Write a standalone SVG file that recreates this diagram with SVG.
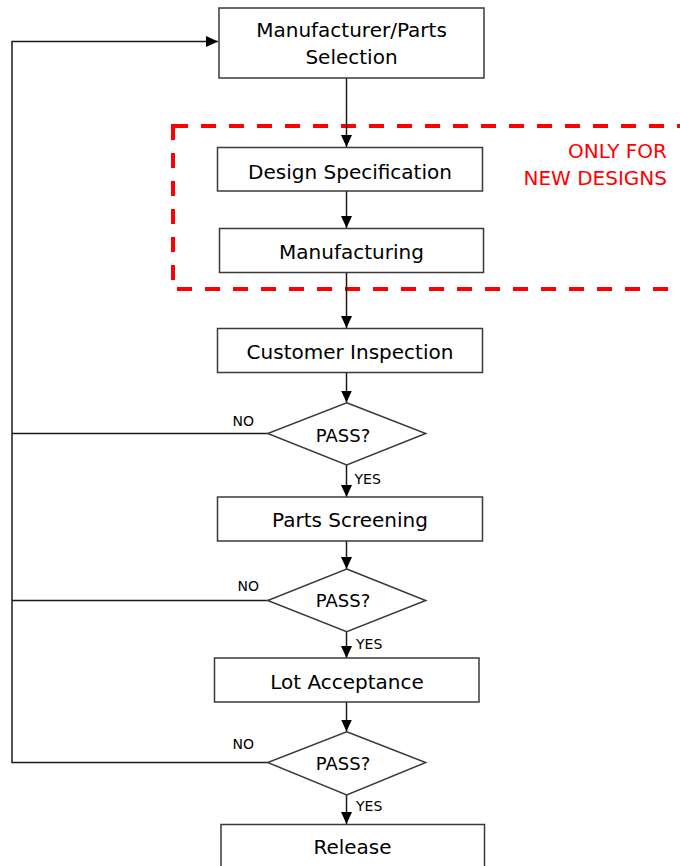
<svg xmlns="http://www.w3.org/2000/svg" width="680" height="866" viewBox="0 0 680 866">
<style>
.box{fill:#fff;stroke:#3a3a3a;stroke-width:1.5}
.lbl{font-family:"DejaVu Sans",Verdana,sans-serif;font-size:20px;fill:#000;text-anchor:middle}
.pass{font-family:"DejaVu Sans",Verdana,sans-serif;font-size:18px;fill:#000;text-anchor:middle}
.yn{font-family:"DejaVu Sans",Verdana,sans-serif;font-size:14px;fill:#000}
.red{font-family:"DejaVu Sans",Verdana,sans-serif;font-size:20px;fill:#ff0000;text-anchor:end}
.ln{fill:none;stroke:#1a1a1a;stroke-width:1.5}
.arr{fill:none;stroke:#1a1a1a;stroke-width:1.5;marker-end:url(#ah)}
</style>
<defs>
<marker id="ah" markerUnits="userSpaceOnUse" markerWidth="12" markerHeight="11" refX="12" refY="5.5" orient="auto">
<path d="M0,0 L12,5.5 L0,11 Z" fill="#000"/>
</marker>
</defs>
<rect width="680" height="866" fill="#fff"/>
<g id="region-new-designs">
<rect x="173" y="126" width="530" height="163" fill="none" stroke="#ff0000" stroke-width="4" stroke-dasharray="15 13"/>
<text class="red" x="667" y="158">ONLY FOR</text>
<text class="red" x="667" y="185">NEW DESIGNS</text>
</g>
<g id="connectors">
<path class="arr" d="M346.5,78 V147"/>
<path class="arr" d="M346.5,191 V228"/>
<path class="arr" d="M346.5,273 V328"/>
<path class="arr" d="M346.5,373 V402.5"/>
<path class="arr" d="M346.5,465 V497"/>
<path class="arr" d="M346.5,541 V569"/>
<path class="arr" d="M346.5,632 V658"/>
<path class="arr" d="M346.5,702 V731.5"/>
<path class="arr" d="M346.5,795 V824"/>
<path class="ln" d="M268,433.5 H12"/>
<path class="ln" d="M268,600.5 H12"/>
<path class="arr" d="M268,762.5 H12 V41.5 H218"/>
<text class="yn" x="232.5" y="425.5">NO</text>
<text class="yn" x="237.5" y="591">NO</text>
<text class="yn" x="232.5" y="748.5">NO</text>
<text class="yn" x="354.5" y="484">YES</text>
<text class="yn" x="356" y="648.5">YES</text>
<text class="yn" x="356" y="810.5">YES</text>
</g>
<g id="n-manufacturer">
<rect class="box" x="219" y="8" width="265" height="70"/>
<text class="lbl" x="351.5" y="37">Manufacturer/Parts</text>
<text class="lbl" x="351.5" y="64">Selection</text>
</g>
<g id="n-design">
<rect class="box" x="217.5" y="147.5" width="265" height="43.5"/>
<text class="lbl" x="350" y="179">Design Specification</text>
</g>
<g id="n-manufacturing">
<rect class="box" x="219.5" y="228.5" width="264" height="44"/>
<text class="lbl" x="351.5" y="259">Manufacturing</text>
</g>
<g id="n-customer">
<rect class="box" x="217.5" y="328.5" width="265" height="44"/>
<text class="lbl" x="350" y="359">Customer Inspection</text>
</g>
<g id="d-pass1">
<polygon class="box" points="346.7,402.7 425.7,433.5 346.7,465 267.7,433.5"/>
<text class="pass" x="343" y="441.5">PASS?</text>
</g>
<g id="n-screening">
<rect class="box" x="217.5" y="497" width="265" height="44"/>
<text class="lbl" x="350" y="527">Parts Screening</text>
</g>
<g id="d-pass2">
<polygon class="box" points="346.7,569 425.7,600.5 346.7,631.7 267.7,600.5"/>
<text class="pass" x="343" y="606.5">PASS?</text>
</g>
<g id="n-lot">
<rect class="box" x="214.5" y="658" width="264.5" height="44"/>
<text class="lbl" x="347" y="688.5">Lot Acceptance</text>
</g>
<g id="d-pass3">
<polygon class="box" points="346.7,731.7 425.7,762.5 346.7,795 267.7,762.5"/>
<text class="pass" x="343" y="770">PASS?</text>
</g>
<g id="n-release">
<rect class="box" x="221" y="824.5" width="263.5" height="60"/>
<text class="lbl" x="352.5" y="854">Release</text>
</g>
</svg>
